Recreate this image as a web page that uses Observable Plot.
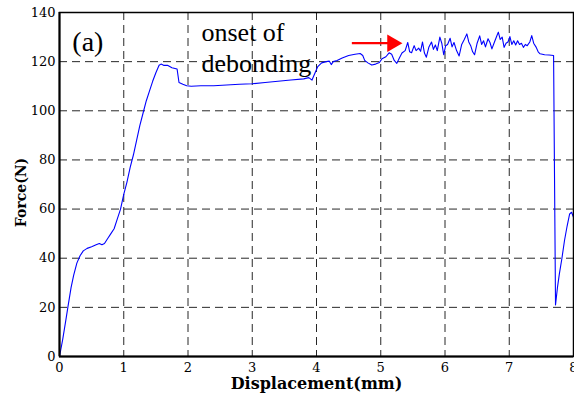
<!DOCTYPE html>
<html>
<head>
<meta charset="utf-8">
<script src="https://cdn.jsdelivr.net/npm/d3@7"></script>
<script src="https://cdn.jsdelivr.net/npm/@observablehq/plot@0.6"></script>
<style>
  html, body { margin: 0; padding: 0; background: #fff; }
</style>
</head>
<body>
<div id="chart"></div>
<script>
const xTicks = [0, 1, 2, 3, 4, 5, 6, 7, 8];
const yTicks = [0, 20, 40, 60, 80, 100, 120, 140];
const xLabel = "Displacement(mm)";
const yLabel = "Force(N)";

const displacement = [
  0, 0.05, 0.1, 0.13, 0.18, 0.22, 0.27, 0.32, 0.37, 0.43, 0.5, 0.57, 0.62, 0.66, 0.7, 0.75, 0.8, 0.85, 0.9, 0.95,
  1.0, 1.05, 1.1, 1.15, 1.2, 1.25, 1.3, 1.35, 1.4, 1.45, 1.5, 1.55, 1.58, 1.62, 1.68, 1.75, 1.83, 1.86, 1.92, 1.98,
  2.05, 2.2, 2.4, 2.6, 2.8, 3.0, 3.2, 3.4, 3.6, 3.8, 3.88, 3.93, 3.97, 4.02, 4.08, 4.15, 4.2, 4.23, 4.26, 4.32,
  4.4, 4.5, 4.6, 4.68, 4.72, 4.75, 4.8, 4.86, 4.92, 4.98, 5.02, 5.08, 5.13, 5.17, 5.21, 5.25, 5.29, 5.33, 5.38, 5.42,
  5.45, 5.48, 5.52, 5.55, 5.59, 5.62, 5.65, 5.68, 5.71, 5.75, 5.79, 5.82, 5.85, 5.88, 5.92, 5.95, 5.98, 6.01, 6.04, 6.08,
  6.11, 6.14, 6.18, 6.22, 6.26, 6.3, 6.34, 6.37, 6.4, 6.43, 6.46, 6.5, 6.54, 6.57, 6.6, 6.63, 6.67, 6.7, 6.73, 6.77,
  6.8, 6.83, 6.86, 6.89, 6.92, 6.95, 6.98, 7.01, 7.04, 7.07, 7.1, 7.13, 7.16, 7.19, 7.22, 7.25, 7.28, 7.32, 7.35, 7.38,
  7.42, 7.45, 7.48, 7.55, 7.62, 7.69, 7.72, 7.75, 7.78, 7.82, 7.86, 7.9, 7.94, 7.97, 8.0
];
const force = [
  0, 7, 15, 20, 28, 33, 38, 41, 43, 44, 44.7, 45.5, 46, 45.5, 46, 48, 50, 52, 56, 60,
  66, 71, 77, 82, 88, 94, 99, 104, 108, 112, 115.5, 118.5, 119, 118.5, 118.5, 117.5, 117, 111.5, 110.8, 110.2,
  110, 110.2, 110.2, 110.5, 110.8, 111, 111.5, 112, 112.5, 113, 113.5, 112.5, 115, 118, 119.5, 120, 120.2, 118.8, 120, 120.5,
  121.5, 122.5, 123, 123.3, 122.5, 120.5, 119.5, 118.6, 119, 119.7, 121.2, 122, 123.6, 123, 120.5, 119.3, 121.5, 123.5, 124.5, 127.8,
  124, 123.6, 126.5, 124.5, 125.5, 124.2, 128, 123.5, 121.8, 126, 128, 125, 126.8, 124.5, 130, 127.5, 122.8, 126.5, 127, 129.5,
  126, 127.8, 124.5, 122.3, 127, 129, 131.3, 128, 126.5, 124, 122.8, 127.5, 130.5, 127, 128.5, 126, 129.3, 127.8, 125.2, 128,
  130, 132, 129, 130, 125.8, 127.5, 128, 130.2, 127, 128.5, 126.8, 128.5, 127, 127.5, 125.8, 127, 126.5, 128, 130.6, 127.5,
  125.8, 124, 123.2, 122.8, 122.7, 122.5, 21, 28, 33.6, 40, 47.2, 53, 58, 58.7, 56.7
];
const curve = displacement.map((d, i) => ({x: d, y: force[i]}));

// annotations (text in data coordinates)
const noteText = ["(a)", "onset of", "debonding"];
const noteX = [0.2, 2.21, 2.21];
const noteY = [124.5, 128.6, 115.6];
const noteSize = [28, 26, 26];
const notes = noteText.map((t, i) => ({t, x: noteX[i], y: noteY[i], s: noteSize[i]}));

// red arrow (shaft from / to, head position) in data coordinates
const arrowX = [4.55, 5.15];
const arrowY = [127.5, 127.5];
const arrowHead = [{x: 5.18, y: 127.5}];

const chart = Plot.plot({
  width: 574,
  height: 396,
  marginLeft: 59,
  marginRight: 1,
  marginTop: 12,
  marginBottom: 40,
  style: {fontFamily: "DejaVu Serif", fontSize: "13px", background: "#fff", color: "#000"},
  x: {domain: [0, 8], ticks: xTicks, tickSize: 0, tickPadding: 6, label: null},
  y: {domain: [0, 140], ticks: yTicks, tickSize: 0, tickPadding: 4, label: null},
  marks: [
    Plot.gridX(xTicks, {stroke: "#000", strokeOpacity: 0.85, strokeDasharray: "8,5"}),
    Plot.gridY(yTicks, {stroke: "#000", strokeOpacity: 0.85, strokeDasharray: "8,5"}),
    Plot.line(curve, {x: "x", y: "y", stroke: "#0000ff", strokeWidth: 1.1}),
    Plot.frame({stroke: "#000", strokeWidth: 1.5}),
    Plot.ruleX([0], {stroke: "#000", strokeWidth: 2}),
    Plot.ruleY([0], {stroke: "#000", strokeWidth: 2}),
    Plot.text(notes, {x: "x", y: "y", text: "t", fontSize: "s", textAnchor: "start", lineAnchor: "bottom",
      fontFamily: "Liberation Serif", fill: "#000"}),
    Plot.link([0], {x1: () => arrowX[0], x2: () => arrowX[1], y1: () => arrowY[0], y2: () => arrowY[1],
      stroke: "#ff0000", strokeWidth: 2.2}),
    Plot.dot(arrowHead, {x: "x", y: "y", symbol: "triangle", rotate: 90, r: 6.5, fill: "#ff0000", stroke: null}),
    Plot.text([xLabel], {frameAnchor: "bottom", lineAnchor: "bottom", textAnchor: "middle", dy: 32,
      text: d => d, fontWeight: "bold", fontSize: 16, fill: "#000"}),
    Plot.text([yLabel], {frameAnchor: "left", lineAnchor: "bottom", textAnchor: "middle", dx: -34, dy: 8, rotate: -90,
      text: d => d, fontWeight: "bold", fontSize: 14, fill: "#000"})
  ]
});
document.getElementById("chart").appendChild(chart);
</script>
</body>
</html>
